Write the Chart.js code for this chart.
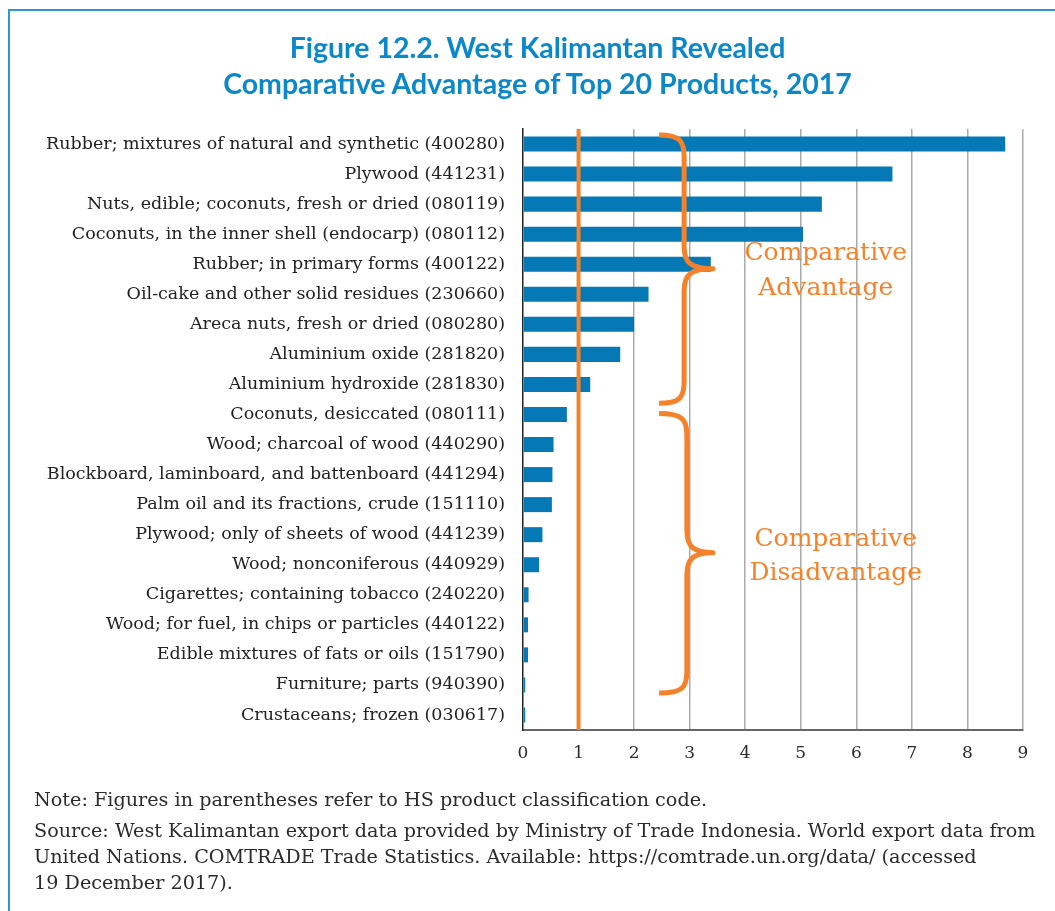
<!DOCTYPE html>
<html>
<head>
<meta charset="utf-8">
<script src="https://cdn.jsdelivr.net/npm/chart.js@4.4.1/dist/chart.umd.min.js"></script>
<style>
  body { margin: 0; background: #fff; }
  #page { position: relative; width: 1055px; height: 911px; overflow: hidden; }
  #frame { position: absolute; left: 8px; top: 9px; width: 1100px; height: 1000px;
           border-top: 2px solid #2b98d4; border-left: 2px solid #2b98d4; }
  #title { position: absolute; left: 0; width: 1075px; top: 29px; text-align: center;
           font-family: Lato, sans-serif; font-weight: bold; font-size: 28.5px; line-height: 36px; color: #0b88c9; }
  #wrap { position: absolute; left: 0; top: 0; width: 1055px; height: 911px; }
  #notes { position: absolute; left: 34px; top: 787px; font-family: "DejaVu Serif", serif;
           font-size: 19.2px; color: #2b2b2b; white-space: nowrap; }
  #notes p { margin: 0 0 5px 0; line-height: 26px; }
</style>
</head>
<body>
<div id="page">
  <div id="frame"></div>
  <div id="wrap"><canvas id="myChart"></canvas></div>
  <div id="title">Figure 12.2. West Kalimantan Revealed<br>Comparative Advantage of Top 20 Products, 2017</div>
  <div id="notes">
    <p>Note: Figures in parentheses refer to HS product classification code.</p>
    <p>Source: West Kalimantan export data provided by Ministry of Trade Indonesia. World export data from<br>United Nations. COMTRADE Trade Statistics. Available: https://comtrade.un.org/data/ (accessed<br>19 December 2017).</p>
  </div>
</div>
<script>
var products = [
    'Rubber; mixtures of natural and synthetic (400280)',
    'Plywood (441231)',
    'Nuts, edible; coconuts, fresh or dried (080119)',
    'Coconuts, in the inner shell (endocarp) (080112)',
    'Rubber; in primary forms (400122)',
    'Oil-cake and other solid residues (230660)',
    'Areca nuts, fresh or dried (080280)',
    'Aluminium oxide (281820)',
    'Aluminium hydroxide (281830)',
    'Coconuts, desiccated (080111)',
    'Wood; charcoal of wood (440290)',
    'Blockboard, laminboard, and battenboard (441294)',
    'Palm oil and its fractions, crude (151110)',
    'Plywood; only of sheets of wood (441239)',
    'Wood; nonconiferous (440929)',
    'Cigarettes; containing tobacco (240220)',
    'Wood; for fuel, in chips or particles (440122)',
    'Edible mixtures of fats or oils (151790)',
    'Furniture; parts (940390)',
    'Crustaceans; frozen (030617)'
];
var rcaValues = [8.68, 6.65, 5.38, 5.04, 3.38, 2.26, 2.00, 1.75, 1.21, 0.79,
                 0.55, 0.53, 0.52, 0.35, 0.29, 0.10, 0.09, 0.09, 0.04, 0.04];
var xTickLabels = ['0', '1', '2', '3', '4', '5', '6', '7', '8', '9'];
var threshold = 1;
var advantageText = ['Comparative', 'Advantage'];
var disadvantageText = ['Comparative', 'Disadvantage'];

var blue = '#0479b5';
var orange = '#f5822a';

function drawBrace(ctx, xEnd, xSpine, xTip, yTop, yMid, yBot) {
    var r = 22;
    ctx.beginPath();
    ctx.moveTo(xEnd, yTop);
    ctx.bezierCurveTo(xSpine - 4, yTop, xSpine, yTop + 6, xSpine, yTop + r);
    ctx.lineTo(xSpine, yMid - r);
    ctx.bezierCurveTo(xSpine, yMid - 5, xSpine + 8, yMid, xTip, yMid);
    ctx.bezierCurveTo(xSpine + 8, yMid, xSpine, yMid + 5, xSpine, yMid + r);
    ctx.lineTo(xSpine, yBot - r);
    ctx.bezierCurveTo(xSpine, yBot - 6, xSpine - 4, yBot, xEnd, yBot);
    ctx.stroke();
}

var annotations = {
    id: 'annotations',
    afterDatasetsDraw: function (chart) {
        var ctx = chart.ctx;
        var xs = chart.scales.x;
        var ys = chart.scales.y;
        var area = chart.chartArea;
        var step = ys.getPixelForValue(1) - ys.getPixelForValue(0);
        var yAt = function (i) { return ys.getPixelForValue(0) + step * i; };
        ctx.save();
        // threshold line at RCA = 1
        ctx.strokeStyle = orange;
        ctx.lineWidth = 4;
        var x1 = xs.getPixelForValue(threshold);
        ctx.beginPath();
        ctx.moveTo(x1, area.top);
        ctx.lineTo(x1, area.bottom);
        ctx.stroke();
        // braces
        ctx.lineWidth = 5;
        ctx.lineJoin = 'round';
        drawBrace(ctx, xs.getPixelForValue(2.45), xs.getPixelForValue(2.90), xs.getPixelForValue(3.42),
                  yAt(-0.3), yAt(4.15), yAt(8.63));
        drawBrace(ctx, xs.getPixelForValue(2.45), xs.getPixelForValue(2.95), xs.getPixelForValue(3.42),
                  yAt(8.97), yAt(13.6), yAt(18.27));
        // labels
        ctx.fillStyle = orange;
        ctx.font = '25px "DejaVu Serif", serif';
        ctx.textAlign = 'center';
        ctx.textBaseline = 'middle';
        ctx.fillText(advantageText[0], xs.getPixelForValue(5.45), yAt(3.63));
        ctx.fillText(advantageText[1], xs.getPixelForValue(5.45), yAt(4.8));
        ctx.fillText(disadvantageText[0], xs.getPixelForValue(5.63), yAt(13.17));
        ctx.fillText(disadvantageText[1], xs.getPixelForValue(5.63), yAt(14.3));
        ctx.restore();
    }
};

var ctx = document.getElementById('myChart').getContext('2d');
var myChart = new Chart(ctx, {
    type: 'bar',
    data: {
        labels: products,
        datasets: [{
            data: rcaValues,
            backgroundColor: blue,
            borderWidth: 0,
            barPercentage: 0.5,
            categoryPercentage: 1.0
        }]
    },
    plugins: [annotations],
    options: {
        indexAxis: 'y',
        responsive: true,
        maintainAspectRatio: false,
        animation: false,
        layout: { padding: { top: 129, right: 32, bottom: 141, left: 0 } },
        plugins: {
            legend: { display: false },
            tooltip: { enabled: false }
        },
        scales: {
            x: {
                min: 0,
                max: 9,
                afterFit: function (scale) { scale.height = 40; },
                grid: {
                    drawTicks: false,
                    color: function (c) { return c.tick && c.tick.value === 0 ? 'rgba(0,0,0,0)' : '#aaaaaa'; },
                    lineWidth: 1.5
                },
                border: { color: '#666666', width: 2 },
                ticks: {
                    stepSize: 1,
                    padding: 13,
                    color: '#2b2b2b',
                    font: { family: '"DejaVu Serif", serif', size: 17 },
                    callback: function (v, i) { return xTickLabels[i]; }
                }
            },
            y: {
                afterFit: function (scale) { scale.width = 523; },
                grid: { display: false, drawTicks: false },
                border: { color: '#222222', width: 1.5 },
                ticks: {
                    padding: 18,
                    color: '#222222',
                    font: { family: '"DejaVu Serif", serif', size: 17.5 }
                }
            }
        }
    }
});
</script>
</body>
</html>
